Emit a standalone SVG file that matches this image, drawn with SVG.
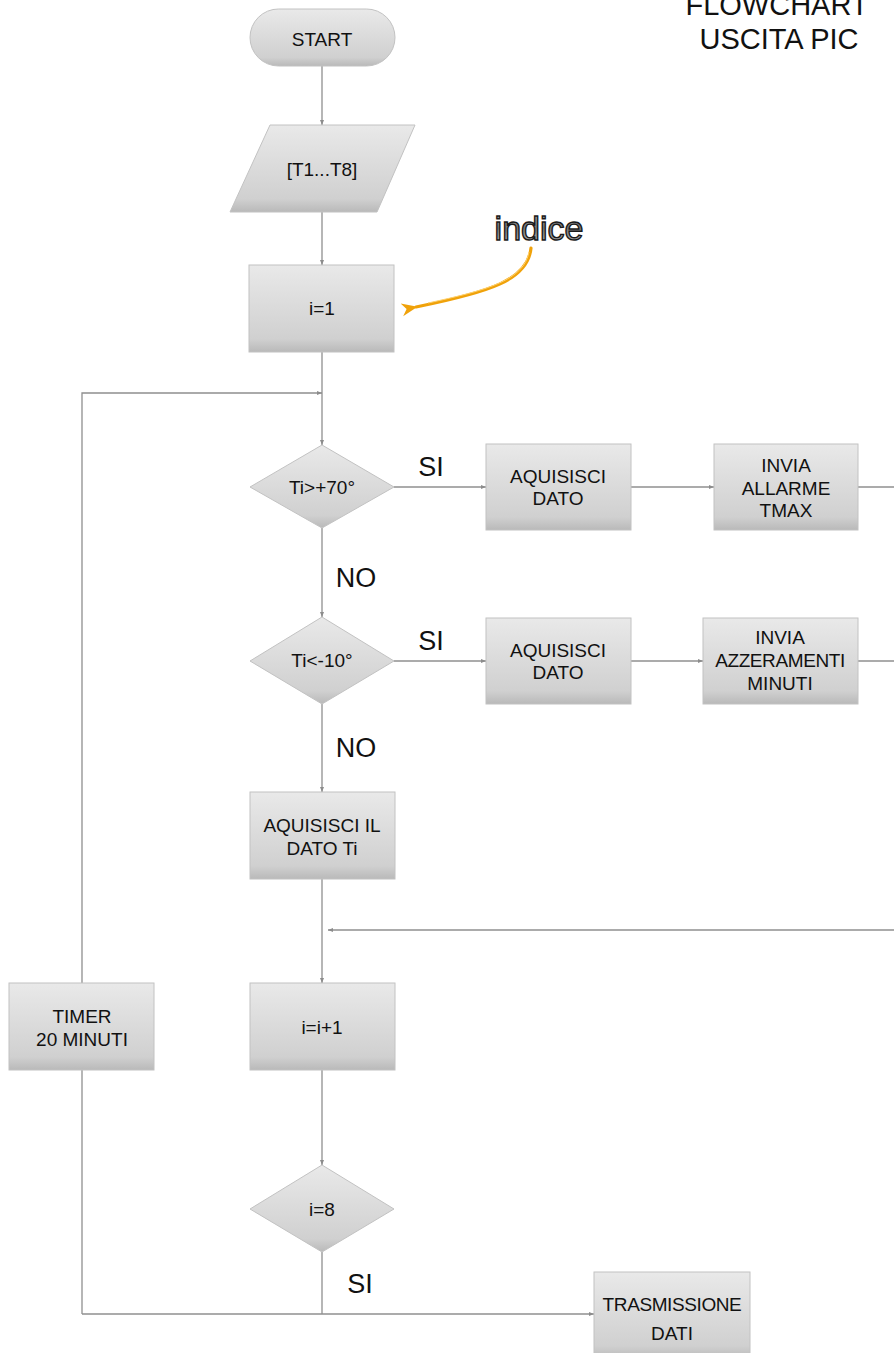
<svg xmlns="http://www.w3.org/2000/svg" width="894" height="1353" viewBox="0 0 894 1353">
<defs>
<linearGradient id="g" x1="0" y1="0" x2="0" y2="1">
<stop offset="0" stop-color="#e9e9e9"/>
<stop offset="0.85" stop-color="#d0d0d0"/>
<stop offset="1" stop-color="#b9b9b9"/>
</linearGradient>
<linearGradient id="gt" x1="0" y1="0" x2="0" y2="1">
<stop offset="0" stop-color="#b0b0b0"/>
<stop offset="0.5" stop-color="#7a7a7a"/>
<stop offset="1" stop-color="#c0c0c0"/>
</linearGradient>
<marker id="a" viewBox="0 0 10 10" refX="10" refY="5" markerWidth="5" markerHeight="5" orient="auto" markerUnits="userSpaceOnUse">
<path d="M0,1 L10,5 L0,9 z" fill="#8c8c8c"/>
</marker>
<marker id="o" viewBox="0 0 10 10" refX="1" refY="5" markerWidth="16" markerHeight="16" orient="auto-start-reverse" markerUnits="userSpaceOnUse">
<path d="M10,1 L0,5 L10,9 L7,5 z" fill="#f0a20a"/>
</marker>
</defs>
<style>
.n{fill:url(#g);stroke:#c2c2c2;stroke-width:1}
.t{font-family:"Liberation Sans",Arial,sans-serif;font-size:19px;fill:#111;text-anchor:middle}
.l{font-family:"Liberation Sans",Arial,sans-serif;font-size:27px;fill:#111;text-anchor:middle}
.c{fill:none;stroke:#8f8f8f;stroke-width:1.3}
.ca{fill:none;stroke:#8f8f8f;stroke-width:1.3;marker-end:url(#a)}
</style>

<g id="title">
<text class="t" x="777" y="15" style="font-size:29px">FLOWCHART</text>
<text class="t" x="779" y="49" style="font-size:29px">USCITA PIC</text>
</g>

<g id="connectors">
<line class="ca" x1="322" y1="66" x2="322" y2="125"/>
<line class="ca" x1="322" y1="212" x2="322" y2="265"/>
<line class="ca" x1="322" y1="352" x2="322" y2="445"/>
<polyline class="ca" points="82,983 82,393 322,393"/>
<line class="ca" x1="394" y1="487" x2="486" y2="487"/>
<line class="ca" x1="631" y1="487" x2="714" y2="487"/>
<line class="c" x1="858" y1="487" x2="894" y2="487"/>
<line class="ca" x1="322" y1="528" x2="322" y2="617"/>
<line class="ca" x1="394" y1="661" x2="486" y2="661"/>
<line class="ca" x1="631" y1="661" x2="703" y2="661"/>
<line class="c" x1="858" y1="661" x2="894" y2="661"/>
<line class="ca" x1="322" y1="704" x2="322" y2="792"/>
<line class="ca" x1="322" y1="879" x2="322" y2="983"/>
<line class="ca" x1="894" y1="930" x2="328" y2="930"/>
<line class="ca" x1="322" y1="1070" x2="322" y2="1165"/>
<line class="c" x1="322" y1="1252" x2="322" y2="1314"/>
<line class="c" x1="82" y1="1070" x2="82" y2="1314"/>
<line class="ca" x1="82" y1="1314" x2="594" y2="1314"/>
</g>

<g id="labels">
<text class="l" x="431" y="476">SI</text>
<text class="l" x="356" y="587">NO</text>
<text class="l" x="431" y="650">SI</text>
<text class="l" x="356" y="757">NO</text>
<text class="l" x="360" y="1293">SI</text>
</g>

<g id="indice">
<text x="539" y="240" style="font-family:'Liberation Sans',Arial,sans-serif;font-size:34px;text-anchor:middle;fill:url(#gt);stroke:#1a1a1a;stroke-width:1.4">indice</text>
<path d="M531,248 C528,280 490,292 416,307" fill="none" stroke="#f0a20a" stroke-width="3.2" stroke-linecap="round" marker-end="url(#o)"/>
<path d="M529,252 C524,280 488,290 428,303" fill="none" stroke="#ffd270" stroke-width="1"/>
</g>

<g id="start">
<rect class="n" x="250" y="9" width="145" height="57" rx="28.5"/>
<text class="t" x="322" y="46">START</text>
</g>

<g id="input">
<polygon class="n" points="270,125 415,125 377,212 230,212"/>
<text class="t" x="322" y="176">[T1...T8]</text>
</g>

<g id="init">
<rect class="n" x="249" y="265" width="145" height="87"/>
<text class="t" x="322" y="315">i=1</text>
</g>

<g id="dec1">
<polygon class="n" points="322,445 394,487 322,528 250,487"/>
<text class="t" x="322" y="494">Ti&gt;+70°</text>
</g>

<g id="acq1">
<rect class="n" x="486" y="444" width="145" height="86"/>
<text class="t" x="558" y="483">AQUISISCI</text>
<text class="t" x="558" y="505">DATO</text>
</g>

<g id="alarm">
<rect class="n" x="714" y="444" width="144" height="86"/>
<text class="t" x="786" y="472">INVIA</text>
<text class="t" x="786" y="495">ALLARME</text>
<text class="t" x="786" y="517">TMAX</text>
</g>

<g id="dec2">
<polygon class="n" points="322,617 394,661 322,704 250,661"/>
<text class="t" x="322" y="667">Ti&lt;-10°</text>
</g>

<g id="acq2">
<rect class="n" x="486" y="618" width="145" height="86"/>
<text class="t" x="558" y="657">AQUISISCI</text>
<text class="t" x="558" y="679">DATO</text>
</g>

<g id="reset">
<rect class="n" x="703" y="618" width="155" height="86"/>
<text class="t" x="780" y="644">INVIA</text>
<text class="t" x="780" y="667" style="letter-spacing:-0.4px">AZZERAMENTI</text>
<text class="t" x="780" y="690">MINUTI</text>
</g>

<g id="acqTi">
<rect class="n" x="250" y="792" width="145" height="87"/>
<text class="t" x="322" y="832">AQUISISCI IL</text>
<text class="t" x="322" y="855">DATO Ti</text>
</g>

<g id="timer">
<rect class="n" x="9" y="983" width="145" height="87"/>
<text class="t" x="82" y="1023">TIMER</text>
<text class="t" x="82" y="1046">20 MINUTI</text>
</g>

<g id="incr">
<rect class="n" x="250" y="983" width="145" height="87"/>
<text class="t" x="322" y="1034">i=i+1</text>
</g>

<g id="dec3">
<polygon class="n" points="322,1165 394,1209 322,1252 250,1209"/>
<text class="t" x="322" y="1216">i=8</text>
</g>

<g id="tx">
<rect class="n" x="594" y="1272" width="156" height="87"/>
<text class="t" x="672" y="1311" style="letter-spacing:-0.4px">TRASMISSIONE</text>
<text class="t" x="672" y="1340">DATI</text>
</g>
</svg>
